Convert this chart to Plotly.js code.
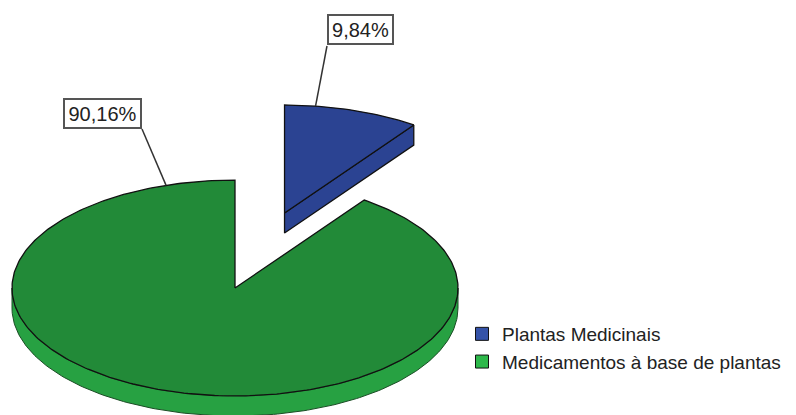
<!DOCTYPE html>
<html>
<head>
<meta charset="utf-8">
<script src="https://cdn.plot.ly/plotly-3.0.1.min.js"></script>
<style>html,body{margin:0;padding:0;background:#fff;}#chart{width:796px;height:415px;}</style>
</head>
<body>
<div id="chart"></div>
<script>
// ---- data ----
const categories = ['Plantas Medicinais', 'Medicamentos à base de plantas'];
const percents = [9.84, 90.16];
const pctLabels = ['9,84%', '90,16%'];
const topColors = ['#2B4392', '#228A38'];
const sideColors = ['#2B4392', '#27A142'];
const legendColors = ['#3553A8', '#2DB84A'];
const explode = [0.73, 0];
const leaderAngles = [82, 108];          // where each label's leader meets its slice
const labelPx = [[360, 29.5], [102.5, 113]]; // label box centres (pixels)
const labelW = [63, 75];                     // label box inner widths
const leaderEndPx = [[327, 46], [142, 129]]; // box corner the leader starts from

// ---- geometry (layout) ----
const W = 796, H = 415;
const CXP = 235, CYP = 288, RP = 223;   // pie centre / radius in pixels
const TILT = 0.484, DEPTH = 0.09;
const START = 90;
const rad = d => d * Math.PI / 180;
function pxToData(px, py) { return [(px - CXP) / RP, (CYP - py) / RP]; }

const traces = [];
const annotations = [];
let a0 = START;
const total = percents.reduce((s, v) => s + v, 0);

percents.forEach((p, i) => {
  const sweep = 360 * p / total;
  const a1 = a0 - sweep;
  const mid = (a0 + a1) / 2;
  const cx = explode[i] * Math.cos(rad(mid));
  const cy = TILT * explode[i] * Math.sin(rad(mid));
  const P = (a, z) => [cx + Math.cos(rad(a)), cy + TILT * Math.sin(rad(a)) - z];
  const arc = (from, to, z) => {
    const pts = [];
    const n = Math.max(2, Math.ceil(Math.abs(to - from)));
    for (let k = 0; k <= n; k++) pts.push(P(from + (to - from) * k / n, z));
    return pts;
  };
  const poly = (pts, fill, lc, lw) => traces.push({
    type: 'scatter', mode: 'lines', x: pts.map(q => q[0]), y: pts.map(q => q[1]),
    fill: 'toself', fillcolor: fill, line: {color: lc, width: lw}, showlegend: false, hoverinfo: 'skip'
  });
  // visible outer rim (front half)
  for (let k = -2; k <= 2; k++) {
    const lo = Math.max(a1, -180 + 360 * k), hi = Math.min(a0, 360 * k);
    if (lo < hi) {
      const pts = arc(lo, hi, 0).concat(arc(hi, lo, DEPTH));
      pts.push(pts[0]);
      poly(pts, sideColors[i], '#1b4d25', 1);
    }
  }
  // visible cut faces
  const face = a => {
    const pts = [[cx, cy], P(a, 0), P(a, DEPTH), [cx, cy - DEPTH], [cx, cy]];
    poly(pts, sideColors[i], '#111', 1.3);
  };
  if (Math.cos(rad(a0)) < -1e-6) face(a0);
  if (Math.cos(rad(a1)) > 1e-6) face(a1);
  // top face
  const top = [[cx, cy]].concat(arc(a0, a1, 0));
  top.push([cx, cy]);
  poly(top, topColors[i], '#111', 1.3);
  // leader line + label
  const s = P(leaderAngles[i], 0);
  const e = pxToData(leaderEndPx[i][0], leaderEndPx[i][1]);
  traces.push({type: 'scatter', mode: 'lines', x: [s[0], e[0]], y: [s[1], e[1]],
    line: {color: '#333', width: 1.5}, showlegend: false, hoverinfo: 'skip'});
  const c = pxToData(labelPx[i][0], labelPx[i][1]);
  annotations.push({x: c[0], y: c[1], xref: 'x', yref: 'y', text: pctLabels[i], showarrow: false,
    font: {family: 'Arial, "Liberation Sans", sans-serif', size: 20, color: '#222'},
    bgcolor: '#fff', bordercolor: '#555', borderwidth: 2, borderpad: 0, width: labelW[i], height: 27});
  a0 = a1;
});

// legend entries
categories.forEach((name, i) => traces.push({
  type: 'scatter', mode: 'markers', x: [null], y: [null], name: name,
  marker: {symbol: 'square', size: 13, color: legendColors[i], line: {color: '#111', width: 1}}
}));

const x0 = pxToData(0, H), x1 = pxToData(W, 0);
const layout = {
  width: W, height: H, margin: {l: 0, r: 0, t: 0, b: 0},
  paper_bgcolor: '#fff', plot_bgcolor: '#fff',
  xaxis: {range: [x0[0], x1[0]], visible: false, fixedrange: true},
  yaxis: {range: [x0[1], x1[1]], visible: false, fixedrange: true},
  showlegend: true,
  legend: {x: 462 / W, y: 1 - 315 / H, xanchor: 'left', yanchor: 'top',
    font: {family: 'Arial, "Liberation Sans", sans-serif', size: 19, color: '#222'},
    bgcolor: 'rgba(0,0,0,0)', borderwidth: 0, itemwidth: 30},
  annotations: annotations
};
Plotly.newPlot('chart', traces, layout, {staticPlot: true, displayModeBar: false});
</script>
</body>
</html>
